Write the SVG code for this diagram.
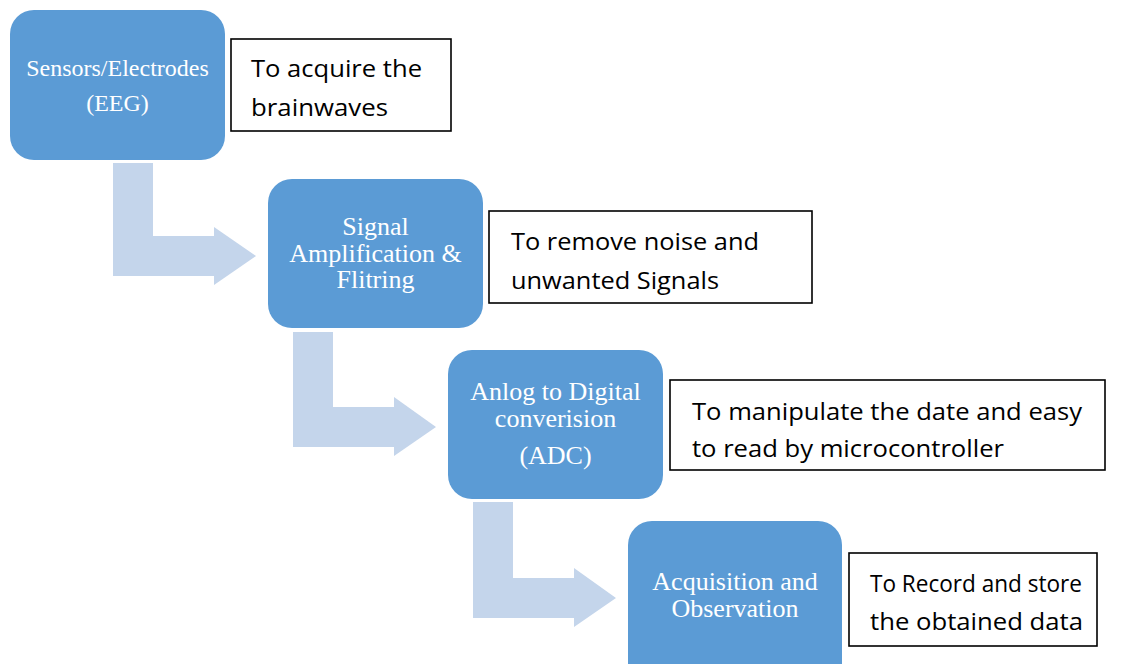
<svg xmlns="http://www.w3.org/2000/svg" width="1142" height="664" viewBox="0 0 1142 664">
  <style>
    .step { fill: #5B9BD5; }
    .step-label { font-family: "Liberation Serif", "Times New Roman", serif; fill: #FFFFFF; text-anchor: middle; font-size: 26px; }
    .note { fill: #FFFFFF; stroke: #000000; stroke-width: 1.6; }
    .note-label { font-family: "Open Sans", "Noto Sans", sans-serif; fill: #000000; font-size: 24.5px; }
    .bend { fill: #C4D5EB; }
  </style>

  <rect width="1142" height="664" fill="#FFFFFF"/>

  <!-- bent arrows linking the stages -->
  <g id="connectors">
    <path class="bend" d="M113,163 H153 V236 H214 V227 L256,256 L214,285 V276 H113 Z"/>
    <path class="bend" d="M293,332 H333 V407 H394 V397 L436,427 L394,456 V447 H293 Z"/>
    <path class="bend" d="M473,502 H513 V578 H574 V568 L616,598 L574,627 V618 H473 Z"/>
  </g>

  <g id="sensors">
    <rect class="step" x="10" y="10" width="215" height="150" rx="24"/>
    <text class="step-label" x="117.5" y="76" style="font-size:24px">Sensors/Electrodes</text>
    <text class="step-label" x="117.5" y="111" style="font-size:24px">(EEG)</text>
  </g>
  <g id="sensors-note">
    <rect class="note" x="231" y="39" width="220" height="92"/>
    <text class="note-label" x="251" y="77" textLength="171" lengthAdjust="spacingAndGlyphs">To acquire the</text>
    <text class="note-label" x="251" y="116" textLength="137" lengthAdjust="spacingAndGlyphs">brainwaves</text>
  </g>

  <g id="amplification">
    <rect class="step" x="268" y="179" width="215" height="149" rx="24"/>
    <text class="step-label" x="375.5" y="235">Signal</text>
    <text class="step-label" x="375.5" y="262">Amplification &amp;</text>
    <text class="step-label" x="375.5" y="288">Flitring</text>
  </g>
  <g id="amplification-note">
    <rect class="note" x="489" y="211" width="323" height="92"/>
    <text class="note-label" x="511" y="250" textLength="248" lengthAdjust="spacingAndGlyphs">To remove noise and</text>
    <text class="note-label" x="511" y="289" textLength="208" lengthAdjust="spacingAndGlyphs">unwanted Signals</text>
  </g>

  <g id="adc">
    <rect class="step" x="448" y="350" width="215" height="149" rx="24"/>
    <text class="step-label" x="555.5" y="400">Anlog to Digital</text>
    <text class="step-label" x="555.5" y="427">converision</text>
    <text class="step-label" x="555.5" y="464">(ADC)</text>
  </g>
  <g id="adc-note">
    <rect class="note" x="670" y="380" width="435" height="90"/>
    <text class="note-label" x="692" y="420" textLength="390" lengthAdjust="spacingAndGlyphs">To manipulate the date and easy</text>
    <text class="note-label" x="692" y="457" textLength="312" lengthAdjust="spacingAndGlyphs">to read by microcontroller</text>
  </g>

  <g id="acquisition">
    <rect class="step" x="628" y="521" width="214" height="170" rx="24"/>
    <text class="step-label" x="735" y="590">Acquisition and</text>
    <text class="step-label" x="735" y="617">Observation</text>
  </g>
  <g id="acquisition-note">
    <rect class="note" x="849" y="553" width="248" height="93"/>
    <text class="note-label" x="870" y="592" textLength="212" lengthAdjust="spacingAndGlyphs">To Record and store</text>
    <text class="note-label" x="870" y="630" textLength="213" lengthAdjust="spacingAndGlyphs">the obtained data</text>
  </g>
</svg>
